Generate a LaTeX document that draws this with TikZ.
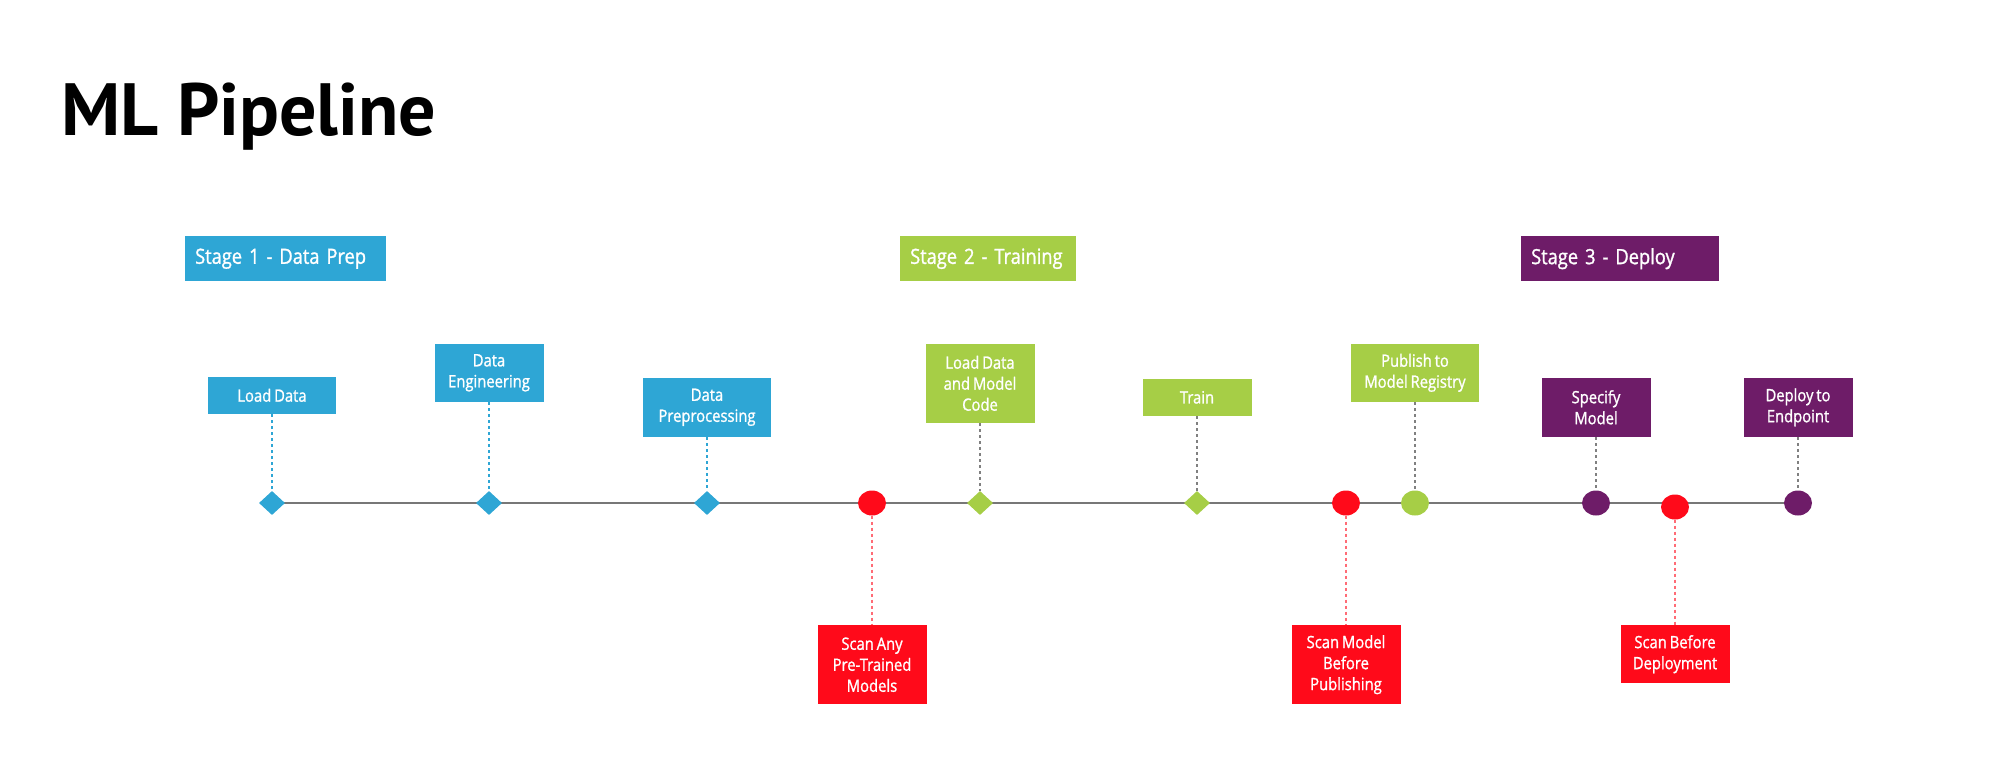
\documentclass[tikz,border=0pt]{standalone}
\usepackage{fontspec}
\setmainfont{Open Sans}[FakeStretch=0.87,FakeBold=1.2,WordSpace=0.75]
\newfontfamily\titlefont{PT Sans}
\usetikzlibrary{shapes.geometric,backgrounds}
\definecolor{prepblue}{HTML}{2EA6D5}
\definecolor{trainlime}{HTML}{A6CE46}
\definecolor{deploypurple}{HTML}{6E1C68}
\definecolor{scanred}{HTML}{FF0A1A}
\definecolor{axisgray}{HTML}{777777}
\begin{document}
\begin{tikzpicture}[x=1pt,y=-1pt,
  stage/.style={fill=#1,text=white,anchor=north west,minimum height=45pt,
    inner xsep=10pt,inner ysep=0pt,align=left,font=\fontsize{21}{25}\selectfont},
  box/.style={fill=#1,text=white,align=center,inner sep=0pt,minimum width=109pt,
    minimum height=37pt,font=\fontsize{17}{21}\selectfont},
  tick/.style={fill=#1,shape=diamond,inner sep=0pt,minimum width=26pt,minimum height=24pt},
  dot/.style={fill=#1,shape=ellipse,inner sep=0pt,minimum width=28pt,minimum height=25pt},
  link/.style={draw=#1,line width=1.5pt,dash pattern=on 3pt off 3pt}]
\useasboundingbox (0,0) rectangle (2000,764);

% title
\node[anchor=base west,inner sep=0pt,font=\fontsize{74}{80}\selectfont] (title) at (61,135)
  {\titlefont\bfseries ML Pipeline};

% stage headers
\node[stage=prepblue,text width=181pt] (s1) at (185,236) {Stage 1 - Data Prep};
\node[stage=trainlime,text width=156pt] (s2) at (900,236) {Stage 2 - Training};
\node[stage=deploypurple,text width=178pt] (s3) at (1521,236) {Stage 3 - Deploy};

% markers on the time line
\node[tick=prepblue] (m1) at (272,503) {};
\node[tick=prepblue] (m2) at (489,503) {};
\node[tick=prepblue] (m3) at (707,503) {};
\node[dot=scanred] (m4) at (872,503) {};
\node[tick=trainlime] (m5) at (980,503) {};
\node[tick=trainlime] (m6) at (1197,503) {};
\node[dot=scanred] (m7) at (1346,503) {};
\node[dot=trainlime] (m8) at (1415,503) {};
\node[dot=deploypurple] (m9) at (1596,503) {};
\node[dot=scanred] (m10) at (1675,507) {};
\node[dot=deploypurple] (m11) at (1798,503) {};
\begin{scope}[on background layer]
\draw[axisgray,line width=2pt] (m1.center) -- (m11.center);
\end{scope}

% steps above the line
\node[box=prepblue,minimum width=128pt,anchor=south] (b1) at (272,414) {Load Data};
\node[box=prepblue,minimum height=58pt,anchor=south] (b2) at (489,402) {Data\\Engineering};
\node[box=prepblue,minimum width=128pt,minimum height=59pt,anchor=south] (b3) at (707,437) {Data\\Preprocessing};
\node[box=trainlime,minimum height=79pt,anchor=south] (b5) at (980,423) {Load Data\\and Model\\Code};
\node[box=trainlime,anchor=south] (b6) at (1197,416) {Train};
\node[box=trainlime,minimum width=128pt,minimum height=58pt,anchor=south] (b8) at (1415,402) {Publish to\\Model Registry};
\node[box=deploypurple,minimum height=59pt,anchor=south] (b9) at (1596,437) {Specify\\Model};
\node[box=deploypurple,minimum height=59pt,anchor=south] (b11) at (1798,437) {Deploy to\\Endpoint};

% scans below the line
\node[box=scanred,minimum height=79pt,anchor=north] (b4) at (872,625) {Scan Any\\Pre-Trained\\Models};
\node[box=scanred,minimum height=79pt,anchor=north] (b7) at (1346,625) {Scan Model\\Before\\Publishing};
\node[box=scanred,minimum height=58pt,anchor=north] (b10) at (1675,625) {Scan Before\\Deployment};

% dotted leaders
\foreach \i in {1,2,3}{%
    \draw[link=prepblue] (b\i) -- (m\i);
}
\foreach \i in {5,6,8,9,11}{%
    \draw[link=gray] (b\i) -- (m\i);
}
\foreach \i in {4,7,10}{%
    \draw[link=scanred!60] (m\i) -- (b\i);
}
\end{tikzpicture}
\end{document}
